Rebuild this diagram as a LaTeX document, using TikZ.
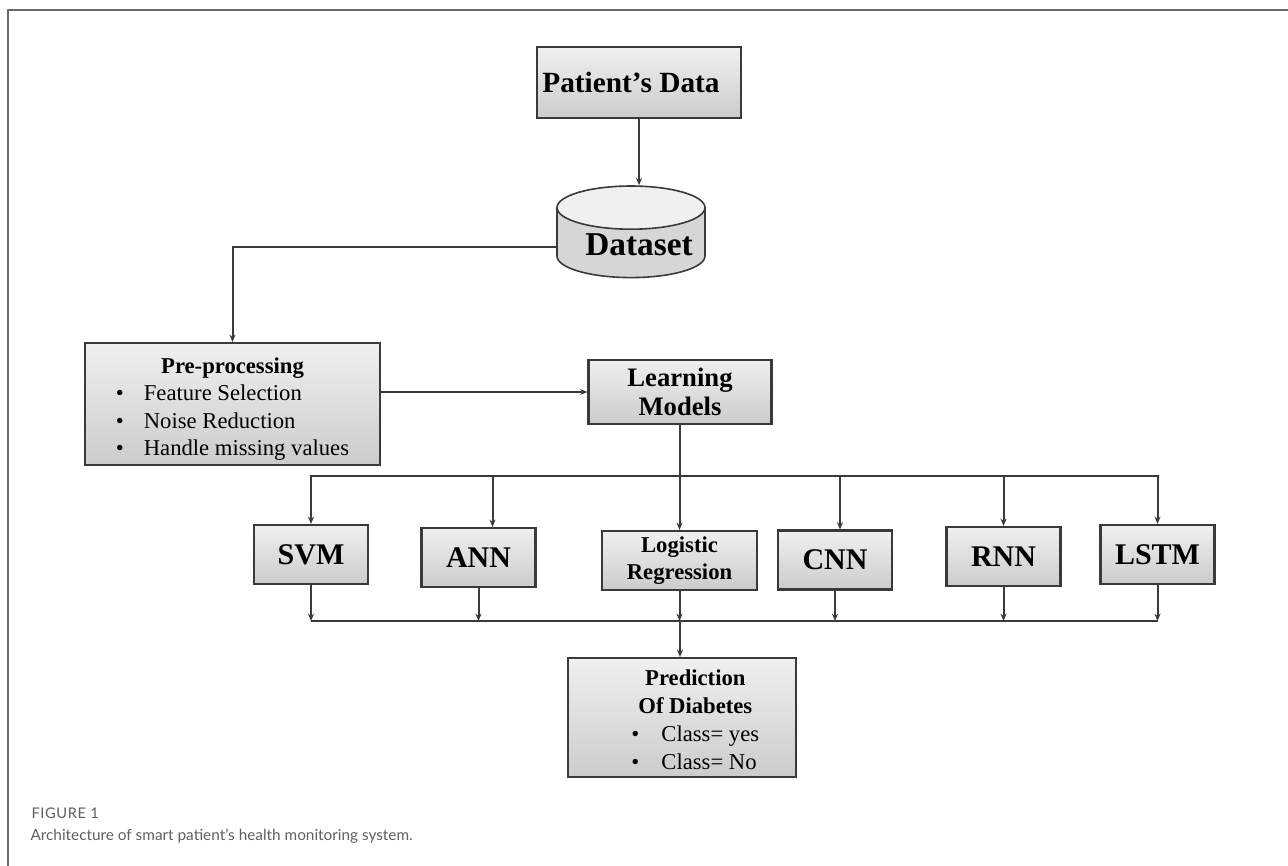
\documentclass[tikz,border=0pt]{standalone}
\usepackage{fontspec}
\setmainfont{Liberation Serif}
\newfontfamily\capfont{Lato}
\newfontfamily\figfont[LetterSpace=4]{Lato}
\usetikzlibrary{arrows.meta,shapes.geometric}

\definecolor{lineclr}{RGB}{58,58,58}
\definecolor{frameclr}{RGB}{105,105,105}
\definecolor{capclr}{RGB}{95,95,95}

\tikzset{every picture/.style={line width=0.75pt}}
\tikzset{
  bevelbox/.style={draw=lineclr, line width=1.6pt, top color=black!6, bottom color=black!20, middle color=black!13, inner sep=0pt, align=center},
  link/.style={draw=lineclr, line width=1.5pt},
  linkarr/.style={link, -{Stealth[length=5.5pt,width=4.5pt]}},
  modelbox/.style={bevelbox, minimum width=85.5pt, minimum height=44.25pt, font=\bfseries\fontsize{22.5}{25}\selectfont},
}

\begin{document}
\begin{tikzpicture}[x=0.75pt,y=0.75pt,yscale=-1,xscale=1]
\useasboundingbox (0,0) rectangle (1288,866);

%Frame
\draw [frameclr, line width=1.1pt] (8,866) -- (8,10) -- (1288,10) ;

%Shape: Rectangle [patient data]
\node [bevelbox, minimum width=153pt, minimum height=53.25pt, font=\bfseries\fontsize{22}{25}\selectfont] (data) at (639,82.5) {Patient’s Data\hspace*{12pt}};
%Shape: Can [dataset]
\node [cylinder, shape border rotate=90, draw=lineclr, line width=1.2pt, cylinder uses custom fill, cylinder body fill=black!16, cylinder end fill=black!6, aspect=0.35, minimum width=111pt, minimum height=67.5pt, inner sep=0pt, text height=19.5pt, text depth=0pt, font=\bfseries\fontsize{25}{28}\selectfont] (ds) at (631,243) {\hspace*{12pt}Dataset};
%Shape: Rectangle [pre-processing]
\node [bevelbox, minimum width=221.25pt, minimum height=91.5pt, text height=49pt, text depth=33pt, font=\fontsize{17}{20.6}\selectfont] (pre) at (232.5,404) {%
  \begin{tabular}{@{}l@{\hspace{15pt}}l@{}}
  \multicolumn{2}{c}{\textbf{Pre-processing}}\\
  \textbullet & Feature Selection\\
  \textbullet & Noise Reduction\\
  \textbullet & Handle missing values
  \end{tabular}};
%Shape: Rectangle [learning models]
\node [bevelbox, minimum width=137.25pt, minimum height=48pt, font=\bfseries\fontsize{20}{22}\selectfont] (learn) at (680,392) {Learning\\Models};

%Shape: Rectangle [models]
\node [modelbox] (svm) at (311,554.5) {SVM};
\node [modelbox] (ann) at (478.5,557.5) {ANN};
\node [modelbox, minimum width=116.25pt, font=\bfseries\fontsize{17}{20}\selectfont] (lr) at (679.5,560.5) {Logistic\\Regression};
\node [modelbox] (cnn) at (835,560) {CNN};
\node [modelbox] (rnn) at (1003.5,556.5) {RNN};
\node [modelbox] (lstm) at (1157.5,554.5) {LSTM};

%Shape: Rectangle [prediction]
\node [bevelbox, minimum width=171pt, minimum height=89.25pt, text height=49.25pt, text depth=34.75pt, font=\fontsize{17}{21}\selectfont] (pred) at (682,717.5) {%
  \begin{tabular}{@{\hspace{20pt}}l@{\hspace{16.5pt}}l@{}}
  \multicolumn{2}{@{\hspace{20pt}}c@{}}{\textbf{Prediction}}\\
  \multicolumn{2}{@{\hspace{20pt}}c@{}}{\textbf{Of Diabetes}}\\
  \textbullet & Class= yes\\
  \textbullet & Class= No
  \end{tabular}};

\coordinate (bus1) at (680,476);
\coordinate (bus2) at (680,621);
\path (ds.west |- ds.center) ++(0,4) coordinate (dsleft);

%Straight Lines
\draw [linkarr] (data.south) -- (data.south |- ds.north) ;
\draw [linkarr] (dsleft) -| (pre.north) ;
\draw [linkarr] (pre.east |- learn.west) -- (learn.west) ;
\draw [link] (learn.south) -- (bus1) ;
\foreach \m/\dx in {svm/0,ann/10.5,lr/0,cnn/3.75,rnn/0,lstm/0}
  \draw [linkarr] (bus1) -| ([xshift=\dx pt]\m.north) ;
\foreach \m in {svm,ann,lr,cnn,rnn,lstm}
  \draw [linkarr] (\m.south) -- (\m.south |- bus2) ;
\draw [link] (svm.south |- bus2) -- (lstm.south |- bus2) ;
\draw [linkarr] (bus2) -- (bus2 |- pred.north) ;

% Text Node
\node [anchor=west, inner sep=0pt, text=capclr, font=\figfont\fontsize{11}{13}\selectfont] (fig) at (31,813) {FIGURE 1};
% Text Node
\node [anchor=west, inner sep=0pt, text=capclr, font=\capfont\fontsize{11.5}{13}\selectfont] (cap) at (30,836) {Architecture of smart patient’s health monitoring system.};

\end{tikzpicture}
\end{document}
